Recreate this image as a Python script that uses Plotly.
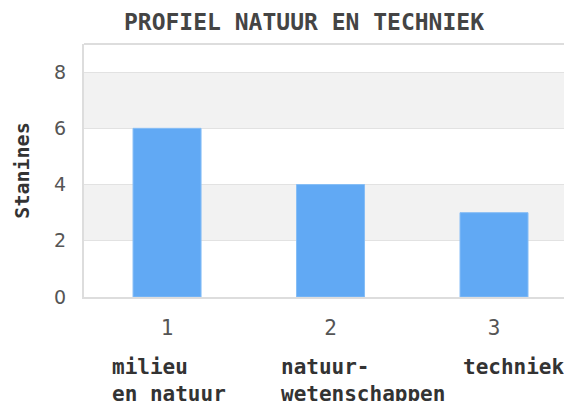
import plotly.graph_objects as go

categories = [1, 2, 3]
values = [6, 4, 3]
cat_labels = ["milieu<br>en natuur", "natuur-<br>wetenschappen", "techniek"]
label_xshift = [-57, -52, -33]
y_ticks = [0, 2, 4, 6, 8]
bands = [(2, 4), (6, 8)]

MONO = "DejaVu Sans Mono"

fig = go.Figure()
fig.add_trace(go.Bar(
    x=categories, y=values, width=0.416,
    marker=dict(color="#61a9f4", line=dict(color="#86bdf6", width=1)),
    hoverinfo="skip",
))

for lo, hi in bands:
    fig.add_shape(type="rect", xref="paper", yref="y", x0=0, x1=1, y0=lo, y1=hi,
                  fillcolor="#f2f2f2", line=dict(width=0), layer="below")

for c, lab, dx in zip(categories, cat_labels, label_xshift):
    fig.add_annotation(x=c, xref="x", y=0, yref="paper", yanchor="top", yshift=-56,
                       xanchor="left", xshift=dx, align="left", showarrow=False,
                       text=lab, font=dict(family=MONO, size=21, color="#333333", weight="bold"))

fig.update_layout(
    width=572, height=401,
    margin=dict(l=76, r=0, t=36, b=112),
    paper_bgcolor="white", plot_bgcolor="white",
    showlegend=False,
    title=dict(text="PROFIEL NATUUR EN TECHNIEK", x=296/572, xanchor="center",
               y=1 - 14/401, yanchor="middle",
               font=dict(family=MONO, size=23, color="#444444", weight="bold")),
    xaxis=dict(range=[0.492, 3.526], tickvals=categories, ticktext=[str(c) for c in categories],
               showgrid=False, zeroline=False, showline=True, linecolor="#dddddd", linewidth=2,
               ticks="", ticklabelstandoff=11,
               tickfont=dict(family=MONO, size=21, color="#555555")),
    yaxis=dict(range=[0, 9], tickvals=y_ticks, showgrid=True, gridcolor="#e2e2e2", gridwidth=1,
               zeroline=False, showline=True, linecolor="#dddddd", linewidth=2, mirror=False,
               ticks="", ticklabelstandoff=12,
               tickfont=dict(family="DejaVu Sans", size=19, color="#555555"),
               title=dict(text="Stanines", standoff=19,
                          font=dict(family=MONO, size=20, color="#333333", weight="bold"))),
)
fig.add_shape(type="line", xref="paper", yref="paper", x0=0, x1=1, y0=1, y1=1,
              line=dict(color="#dddddd", width=2))

fig.write_html("out.html")
